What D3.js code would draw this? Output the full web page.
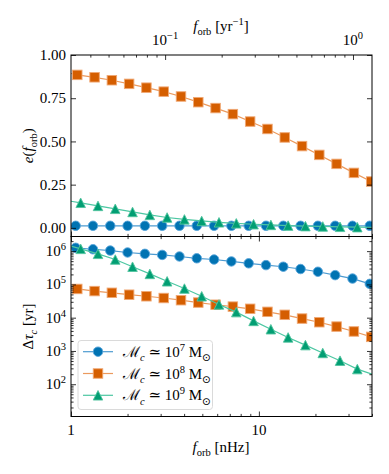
<!DOCTYPE html>
<html><head><meta charset="utf-8">
<script src="https://cdn.jsdelivr.net/npm/d3@7"></script>
<style>
body{margin:0;background:#fff;}
svg{display:block;}
text{font-family:"Liberation Serif","DejaVu Serif",serif;fill:#000;white-space:pre;}
</style>
</head><body>
<svg id="c" width="389" height="474"></svg>
<script>
// ---- data (f in nHz) ----
// first entry of each series (f = 1 nHz) is where the curve leaves the left edge (no marker)
const fCircle   = [1, 1.059, 1.309, 1.618, 2.000, 2.473, 3.057, 3.779, 4.671, 5.775, 7.139, 8.825, 10.91, 13.49, 16.67, 20.61, 25.47, 31.49, 38.93];
const fSquare   = [1, 1.080, 1.335, 1.650, 2.039, 2.520, 3.115, 3.850, 4.759, 5.882, 7.270, 8.986, 11.11, 13.73, 16.97, 20.97, 25.92, 32.04, 39.60];
const fTriangle = [1, 1.126, 1.392, 1.720, 2.126, 2.628, 3.248, 4.015, 4.962, 6.133, 7.581, 9.370, 11.58, 14.31, 17.69, 21.87, 27.03, 33.41, 40];

// eccentricity e(f_orb)
const eCircle   = [0.012, 0.012, 0.012, 0.012, 0.012, 0.012, 0.012, 0.012, 0.012, 0.012, 0.012, 0.012, 0.012, 0.012, 0.012, 0.012, 0.012, 0.012, 0.012];
const eSquare   = [0.893, 0.885, 0.871, 0.854, 0.833, 0.811, 0.788, 0.760, 0.727, 0.693, 0.658, 0.615, 0.572, 0.523, 0.473, 0.422, 0.370, 0.318, 0.268];
const eTriangle = [0.154, 0.145, 0.127, 0.110, 0.092, 0.075, 0.060, 0.049, 0.040, 0.032, 0.026, 0.021, 0.017, 0.013, 0.010, 0.008, 0.006, 0.004, 0.003];

// Delta tau_c [yr]
const tCircle   = [1.35e6, 1.26e6, 1.14e6, 1.04e6, 9.1e5, 8.3e5, 7.7e5, 6.9e5, 6.1e5, 5.6e5, 4.9e5, 4.3e5, 3.8e5, 3.4e5, 2.9e5, 2.4e5, 1.9e5, 1.5e5, 1.04e5];
const tSquare   = [7.8e4, 7.3e4, 6.3e4, 5.6e4, 4.9e4, 4.4e4, 3.9e4, 3.35e4, 2.85e4, 2.45e4, 2.15e4, 1.85e4, 1.5e4, 1.22e4, 9.4e3, 7.3e3, 5.4e3, 3.85e3, 2.65e3];
const tTriangle = [1.42e6, 1.17e6, 8.3e5, 5.6e5, 3.4e5, 2.07e5, 1.24e5, 7.5e4, 4.4e4, 2.5e4, 1.47e4, 8.0e3, 4.5e3, 2.55e3, 1.5e3, 870, 510, 285, 200];
// markers are drawn for indices markerFrom..markerTo
const markerRange = {circle:[1,18], square:[1,18], triangle:[1,17]};

const legendExp = ["7", "8", "9"];
const xTickLabels = [[1,"1"],[10,"10"]];
const topTickLabels = [[0.1,"−1"],[1,"0"]];
const eTicks = [0, 0.25, 0.5, 0.75, 1.0];
const eTickLabels = ["0.00","0.25","0.50","0.75","1.00"];
const tExps = [2,3,4,5,6];

// ---- layout ----
const L=71, R=372, T1=55, M=236.5, B=416.5;
const nHzToYr = 0.031557;
const svg = d3.select("#c");
const x = d3.scaleLog().domain([1,40]).range([L,R]);
const xTop = d3.scaleLog().domain([1*nHzToYr, 40*nHzToYr]).range([L,R]);
const yE = d3.scaleLinear().domain([-0.05,1.0]).range([M,T1]);
const yT = d3.scaleLog().domain([Math.pow(10,1.03), Math.pow(10,6.44)]).range([B,M]);

const series = [
  {key:"circle", f:fCircle, e:eCircle, t:tCircle, fill:"#0173b2", line:"#4d9bd1", edge:"#5aa6db"},
  {key:"square", f:fSquare, e:eSquare, t:tSquare, fill:"#d55e00", line:"#eb9a5e", edge:"#f0a874"},
  {key:"triangle", f:fTriangle, e:eTriangle, t:tTriangle, fill:"#029e73", line:"#4cc7a2", edge:"#52c49f"}
];
const MS = 9.5;
function markerPath(kind){
  const h = MS/2;
  if(kind==="circle") return d3.path(), null;
  return null;
}
function drawMarker(g, kind, cx, cy, s){
  const h = MS/2;
  let el;
  if(kind==="circle") el = g.append("circle").attr("cx",cx).attr("cy",cy).attr("r",h);
  else if(kind==="square") el = g.append("rect").attr("x",cx-h).attr("y",cy-h).attr("width",MS).attr("height",MS);
  else el = g.append("path").attr("d",`M${cx},${cy-h}L${cx+h},${cy+h}L${cx-h},${cy+h}Z`);
  el.attr("fill",s.fill).attr("stroke",s.edge).attr("stroke-width",0.9);
}

const defs = svg.append("defs");
defs.append("clipPath").attr("id","clipTop").append("rect").attr("x",L).attr("y",T1).attr("width",R-L).attr("height",M-T1);
defs.append("clipPath").attr("id","clipBot").append("rect").attr("x",L).attr("y",M).attr("width",R-L).attr("height",B-M);

function drawPanel(clipId, yScale, valKey){
  const g = svg.append("g").attr("clip-path",`url(#${clipId})`);
  series.forEach(s=>{
    const pts = s.f.map((f,i)=>[x(f), yScale(s[valKey][i])]);
    g.append("path").attr("d", d3.line()(pts)).attr("fill","none")
      .attr("stroke",s.line).attr("stroke-width",1.2);
    const [a,b] = markerRange[s.key];
    for(let i=a;i<=b;i++) drawMarker(g, s.key, pts[i][0], pts[i][1], s);
  });
}
drawPanel("clipTop", yE, "e");
drawPanel("clipBot", yT, "t");

// ---- ticks ----
const MAJ=5, MIN=2.6;
const nHzMajor=[1,10];
const nHzMinor=[2,3,4,5,6,7,8,9,20,30,40];
const yrMajor=[0.1,1];
const yrMinor=[0.04,0.05,0.06,0.07,0.08,0.09,0.2,0.3,0.4,0.5,0.6,0.7,0.8,0.9];
const tMajor=tExps.map(e=>Math.pow(10,e));
const tMinor=[];
for(let e=1;e<=6;e++) for(let k=2;k<=9;k++){const v=k*Math.pow(10,e); if(v>=yT.domain()[0]&&v<=yT.domain()[1]) tMinor.push(v);}

function ticks(axisFn, scale, vals, size, tx, ty){
  const g = svg.append("g").attr("transform",`translate(${tx},${ty})`)
    .call(axisFn(scale).tickValues(vals).tickSize(size).tickSizeOuter(0).tickFormat(""));
  g.select(".domain").remove();
  g.selectAll("line").attr("stroke","#000").attr("stroke-width",0.8);
}
// top panel
ticks(d3.axisBottom, x, nHzMajor, -MAJ, 0, M);
ticks(d3.axisBottom, x, nHzMinor, -MIN, 0, M);
ticks(d3.axisTop, xTop, yrMajor, -MAJ, 0, T1);
ticks(d3.axisTop, xTop, yrMinor, -MIN, 0, T1);
ticks(d3.axisLeft, yE, eTicks, -MAJ, L, 0);
ticks(d3.axisRight, yE, eTicks, -MAJ, R, 0);
// bottom panel
ticks(d3.axisBottom, x, nHzMajor, -MAJ, 0, B);
ticks(d3.axisBottom, x, nHzMinor, -MIN, 0, B);
ticks(d3.axisTop, x, nHzMajor, -MAJ, 0, M);
ticks(d3.axisTop, x, nHzMinor, -MIN, 0, M);
ticks(d3.axisLeft, yT, tMajor, -MAJ, L, 0);
ticks(d3.axisLeft, yT, tMinor, -MIN, L, 0);
ticks(d3.axisRight, yT, tMajor, -MAJ, R, 0);
ticks(d3.axisRight, yT, tMinor, -MIN, R, 0);

// frames
[[T1,M],[M,B]].forEach(([a,b])=>{
  svg.append("rect").attr("x",L).attr("y",a).attr("width",R-L).attr("height",b-a)
    .attr("fill","none").attr("stroke","#000").attr("stroke-width",1);
});

// ---- rich text helper ----
function rich(parent, xx, yy, parts, fs, anchor){
  const t = parent.append("text").attr("x",xx).attr("y",yy).attr("font-size",fs)
    .attr("text-anchor",anchor||"start");
  let cur=0;
  parts.forEach(p=>{
    const off = p.sub ? 0.28*fs : (p.sup ? -0.4*fs : 0);
    const ts = t.append("tspan").text(p.t).attr("dy", off-cur);
    cur = off;
    if(p.sub||p.sup) ts.attr("font-size", (p.scale||0.7)*fs);
    if(p.i) ts.attr("font-style","italic");
    if(p.font) ts.style("font-family", p.font);
  });
  return t;
}
const FS = 15;

// y tick labels (top)
eTicks.forEach((v,i)=>{
  svg.append("text").attr("x",L-5).attr("y",yE(v)).attr("dy","0.35em")
    .attr("text-anchor","end").attr("font-size",FS).text(eTickLabels[i]);
});
// y tick labels (bottom)
tExps.forEach(e=>{
  rich(svg, L-5, yT(Math.pow(10,e))+5, [{t:"10"},{t:String(e),sup:true}], FS, "end");
});
// x tick labels bottom
xTickLabels.forEach(([v,s])=>{
  svg.append("text").attr("x",x(v)).attr("y",435).attr("text-anchor","middle").attr("font-size",FS).text(s);
});
// top tick labels
topTickLabels.forEach(([v,s])=>{
  rich(svg, xTop(v), 45, [{t:"10"},{t:s,sup:true}], FS, "middle");
});
// axis titles
rich(svg, 221, 31, [{t:"f",i:true},{t:"orb",sub:true},{t:" [yr"},{t:"−1",sup:true},{t:"]"}], FS, "middle");
rich(svg, 221, 452, [{t:"f",i:true},{t:"orb",sub:true},{t:" [nHz]"}], FS, "middle");
const gy1 = svg.append("g").attr("transform",`translate(33,${(T1+M)/2}) rotate(-90)`);
rich(gy1, 0, 0, [{t:"e",i:true},{t:"("},{t:"f",i:true},{t:"orb",sub:true},{t:")"}], FS, "middle");
const gy2 = svg.append("g").attr("transform",`translate(33,${(M+B)/2}) rotate(-90)`);
rich(gy2, 0, 0, [{t:"Δ"},{t:"τ",i:true},{t:"c",sub:true,i:true},{t:" [yr]"}], FS, "middle");

// ---- legend ----
const lg = svg.append("g");
lg.append("rect").attr("x",78).attr("y",340.5).attr("width",134.5).attr("height",69).attr("rx",3)
  .attr("fill","#fff").attr("fill-opacity",0.8).attr("stroke","#d6d6d6").attr("stroke-width",0.9);
series.forEach((s,i)=>{
  const yy = 351.7 + i*21.8;
  lg.append("line").attr("x1",83).attr("x2",113).attr("y1",yy).attr("y2",yy)
    .attr("stroke",s.line).attr("stroke-width",1.2);
  drawMarker(lg, s.key, 98, yy, s);
  rich(lg, 123, yy+5, [{t:"ℳ",font:"DejaVu Serif"},{t:"c",sub:true,i:true},{t:" ≃ 10"},{t:legendExp[i],sup:true},{t:" M"},{t:"⊙",sub:true,font:"DejaVu Sans"}], FS, "start");
});
</script>
</body></html>
